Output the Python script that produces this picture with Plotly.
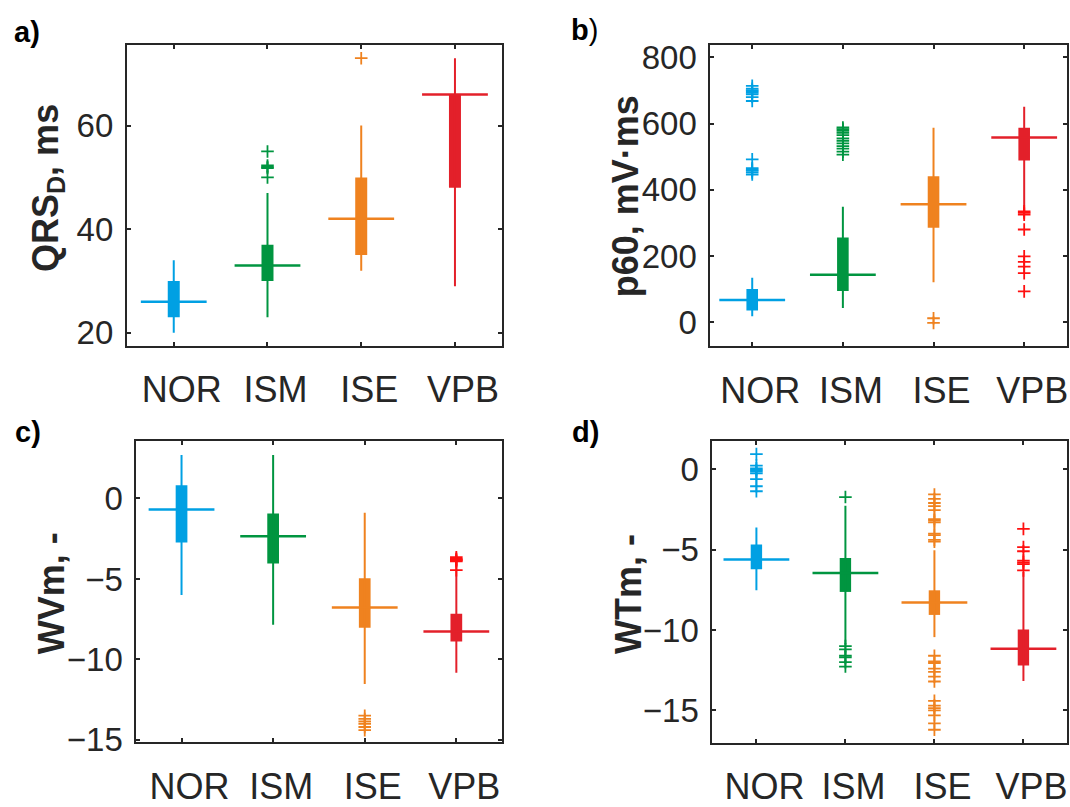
import plotly.graph_objects as go

# ---------------- data ----------------
CATS = ["NOR", "ISM", "ISE", "VPB"]
POS = [1, 2, 3, 4]

# a) QRS_D, ms
qrs_lo = [20, 23, 32, 29]
qrs_q1 = [23, 30, 35, 48]
qrs_med = [26, 33, 42, 66]
qrs_q3 = [30, 37, 50, 66]
qrs_hi = [34, 47, 60, 73]
qrs_out = [[], [55, 52.3, 52, 51.8, 50], [73], []]

# b) p60, mV·ms
p60_lo = [18, 43, 121, 334]
p60_q1 = [35, 94, 285, 488]
p60_med = [67, 143, 356, 558]
p60_q3 = [100, 256, 441, 587]
p60_hi = [134, 349, 587, 651]
p60_out = [
    [714, 705, 700, 697, 693, 688, 680, 668, 492, 465, 461, 457, 452, 446],
    [588, 583, 578, 572, 565, 555, 548, 540, 532, 524, 515, 506],
    [12, -2],
    [335, 330, 325, 280, 199, 182, 168, 148, 93],
]

# c) WVm, -
wv_lo = [-6.0, -7.85, -11.53, -10.83]
wv_q1 = [-2.73, -4.04, -8.03, -8.88]
wv_med = [-0.69, -2.35, -6.77, -8.27]
wv_q3 = [0.82, -0.93, -4.96, -7.17]
wv_hi = [2.71, 2.71, -0.89, -3.65]
wv_out = [[], [], [-13.5, -13.7, -13.85, -14.0, -14.2, -14.4],
          [-3.65, -3.75, -3.8, -3.85, -3.9, -4.45]]

# d) WTm, -
wt_lo = [-7.53, -10.9, -10.44, -13.17]
wt_q1 = [-6.22, -7.63, -9.06, -12.2]
wt_med = [-5.62, -6.45, -8.29, -11.16]
wt_q3 = [-4.68, -5.52, -7.53, -9.96]
wt_hi = [-3.63, -2.27, -5.04, -6.39]
wt_out = [
    [0.94, 0.22, 0.05, -0.05, -0.15, -0.26, -0.62, -1.06, -1.37],
    [-1.73, -11.0, -11.2, -11.6, -11.7, -12.0, -12.27],
    [-1.57, -1.85, -2.1, -2.3, -2.55, -3.1, -3.2, -3.3, -4.0, -4.1, -4.4, -4.5,
     -11.6, -11.95, -12.05, -12.4, -12.6, -12.9, -13.2,
     -14.4, -14.7, -14.85, -15.0, -15.3, -15.8, -16.2],
    [-3.71, -4.84, -5.1, -5.68, -5.8, -5.9, -6.29],
]

# ---------------- style ----------------
W, H = 1070, 807
BOX_COL = ["#00A0E3", "#009540", "#EF821F", "#E3202A"]
OUT_COL = ["#00A0E3", "#009540", "#EF821F", "#FF1010"]
FONT = "Liberation Sans, Arial, sans-serif"
TXT = "#262626"

panels = [
    dict(lo=qrs_lo, q1=qrs_q1, med=qrs_med, q3=qrs_q3, hi=qrs_hi, out=qrs_out,
         px=(127, 502.3, 41, 352), xr=[0.5, 4.5], yr=[17.44, 75.6],
         yt=[20, 40, 60]),
    dict(lo=p60_lo, q1=p60_q1, med=p60_med, q3=p60_q3, hi=p60_hi, out=p60_out,
         px=(711, 1067.7, 41, 352.3), xr=[0.538, 4.469], yr=[-73, 838],
         yt=[0, 200, 400, 600, 800]),
    dict(lo=wv_lo, q1=wv_q1, med=wv_med, q3=wv_q3, hi=wv_hi, out=wv_out,
         px=(136.5, 502.6, 450, 761), xr=[0.507, 4.5], yr=[-15.16, 3.57],
         yt=[-15, -10, -5, 0]),
    dict(lo=wt_lo, q1=wt_q1, med=wt_med, q3=wt_q3, hi=wt_hi, out=wt_out,
         px=(713.1, 1068.3, 450, 761.7), xr=[0.506, 4.493], yr=[-17.03, 1.75],
         yt=[-15, -10, -5, 0]),
]

fig = go.Figure()
layout = dict(width=W, height=H, margin=dict(l=0, r=0, t=0, b=0),
              paper_bgcolor="white", plot_bgcolor="white", showlegend=False,
              barmode="overlay", font=dict(family=FONT, color=TXT))

for k, p in enumerate(panels):
    xa = "x" if k == 0 else f"x{k+1}"
    ya = "y" if k == 0 else f"y{k+1}"
    for i in range(4):
        c = BOX_COL[i]
        fig.add_trace(go.Scatter(x=[POS[i], POS[i]], y=[p["lo"][i], p["hi"][i]],
                                 mode="lines", line=dict(color=c, width=2),
                                 xaxis=xa, yaxis=ya, hoverinfo="skip"))
        fig.add_trace(go.Bar(x=[POS[i]], y=[p["q3"][i] - p["q1"][i]], base=[p["q1"][i]],
                             width=0.128, marker=dict(color=c, line=dict(width=0)),
                             xaxis=xa, yaxis=ya))
        fig.add_trace(go.Scatter(x=[POS[i]], y=[p["med"][i]], mode="markers",
                                 marker=dict(symbol="line-ew", size=47,
                                             line=dict(color=c, width=2.5)),
                                 xaxis=xa, yaxis=ya))
        if p["out"][i]:
            fig.add_trace(go.Scatter(x=[POS[i]] * len(p["out"][i]), y=p["out"][i],
                                     mode="markers",
                                     marker=dict(symbol="cross-thin", size=9,
                                                 line=dict(color=OUT_COL[i], width=1.8)),
                                     xaxis=xa, yaxis=ya))
    x0, x1, y0, y1 = p["px"]
    common = dict(showline=True, linewidth=2, linecolor=TXT, mirror="ticks",
                  ticks="inside", ticklen=4, tickwidth=1.5, tickcolor=TXT,
                  showgrid=False, zeroline=False, fixedrange=True)
    layout["xaxis" if k == 0 else f"xaxis{k+1}"] = dict(
        domain=[x0 / W, x1 / W], range=p["xr"], tickvals=POS, ticktext=CATS,
        tickfont=dict(size=36, color=TXT), ticklabelstandoff=11, ticklabelshift=8,
        anchor=ya, **common)
    layout["yaxis" if k == 0 else f"yaxis{k+1}"] = dict(
        domain=[1 - y1 / H, 1 - y0 / H], range=p["yr"], tickvals=p["yt"],
        tickfont=dict(size=33, color=TXT), ticklabelstandoff=5,
        anchor=xa, **common)

titles = [
    ("<b>QRS<sub>D</sub>, ms</b>", 48, 189),
    ("<b>p60, mV·ms</b>", 626, 197),
    ("<b>WVm, -</b>", 51, 607),
    ("<b>WTm, -</b>", 629, 607.5),
]
labels = [
    ("<b>a)</b>", 27.5, 28),
    ("<b>b</b>)", 585, 26),
    ("<b>c)</b>", 28, 441),
    ("<b>d)</b>", 586, 441),
]
ann = []
for t, x, y in titles:
    ann.append(dict(text=t, x=x / W, y=1 - y / H, xref="paper", yref="paper",
                    xanchor="center", yanchor="middle", textangle=-90,
                    showarrow=False, font=dict(size=36, color=TXT, family=FONT)))
for t, x, y in labels:
    ann.append(dict(text=t, x=x / W, y=1 - y / H, xref="paper", yref="paper",
                    xanchor="center", yanchor="middle", showarrow=False,
                    font=dict(size=29, color="black", family=FONT)))
layout["annotations"] = ann

fig.update_layout(**layout)
fig.write_html("out.html")
